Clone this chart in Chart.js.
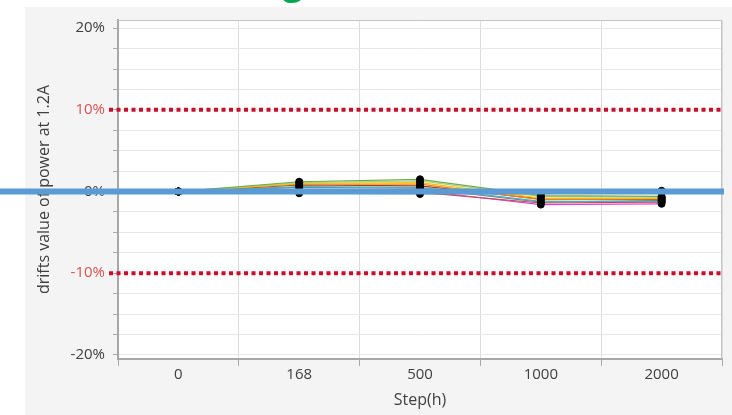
<!DOCTYPE html>
<html>
<head>
<meta charset="utf-8">
<script src="https://cdn.jsdelivr.net/npm/chart.js@4/dist/chart.umd.min.js"></script>
<style>
  html, body { margin: 0; padding: 0; background: #ffffff; }
  #wrap { width: 732px; height: 415px; }
</style>
</head>
<body>
<div id="wrap"><canvas id="c" width="732" height="415"></canvas></div>
<script>
// Test steps (hours)
const steps = ['0', '168', '500', '1000', '2000'];

// Drift of output power at 1.2A per sample, in percent
const sampleA = [0, 1.2, 1.5, -0.5, -0.6];
const sampleB = [0, 1.1, 1.3, -0.6, -0.7];
const sampleC = [0, 1.0, 1.1, -0.8, -0.8];
const sampleD = [0, 0.9, 0.9, -1.0, -0.9];
const sampleE = [0, 0.8, 0.7, -0.9, -1.0];
const sampleF = [0, 0.6, 0.5, -1.2, -1.2];
const sampleG = [0, 0.5, 0.4, -1.3, -1.1];
const sampleH = [0, 0.0, -0.1, -1.4, -1.3];
const sampleI = [0, 0.2, 0.1, -1.6, -1.5];
const sampleJ = [0, -0.2, -0.3, -0.3, 0.1];

const samples = [sampleA, sampleB, sampleC, sampleD, sampleE, sampleF, sampleG, sampleH, sampleI, sampleJ];
const sampleColors = ['#70ad47', '#a9d18e', '#ffc000', '#ed7d31', '#9e480e', '#4bacc6', '#7f7f7f', '#c0504d', '#e040e0', '#b4a7d6'];

// Axis labels and reference levels (percent)
const yLabelValues = [-20, -10, 0, 10, 20];
const limitLines = [10, -10];
const baseline = 0;
const yMinorStep = 2.5;

const decor = {
  id: 'decor',
  beforeDraw(chart) {
    const { ctx, chartArea: a, width, height } = chart;
    ctx.save();
    ctx.fillStyle = '#ffffff';
    ctx.fillRect(0, 0, width, height);
    ctx.fillStyle = '#f4f4f4';
    ctx.fillRect(25, 7, width - 25, height - 7);
    ctx.fillStyle = '#ffffff';
    ctx.fillRect(a.left, a.top, a.right - a.left, a.bottom - a.top);
    // heading text sitting above the panel
    ctx.fillStyle = '#00a651';
    ctx.font = 'bold 36px "Open Sans"';
    ctx.textAlign = 'center';
    ctx.textBaseline = 'alphabetic';
    ctx.fillText('g', 293, -6);
    ctx.restore();
  },
  afterDatasetsDraw(chart) {
    const { ctx, chartArea: a, scales: { y } } = chart;
    ctx.save();
    // frame
    ctx.strokeStyle = '#c4c4c4';
    ctx.lineWidth = 1;
    ctx.beginPath();
    ctx.moveTo(a.left, a.top + 0.5);
    ctx.lineTo(a.right - 0.5, a.top + 0.5);
    ctx.lineTo(a.right - 0.5, a.bottom);
    ctx.stroke();
    // limit lines
    ctx.strokeStyle = '#c8102e';
    ctx.lineWidth = 4;
    ctx.setLineDash([4, 3.5]);
    limitLines.forEach(v => {
      const py = y.getPixelForValue(v);
      ctx.beginPath();
      ctx.moveTo(a.left - 9, py);
      ctx.lineTo(a.right, py);
      ctx.stroke();
    });
    ctx.setLineDash([]);
    // zero line
    const p0 = y.getPixelForValue(baseline);
    ctx.strokeStyle = '#5b9bd5';
    ctx.lineWidth = 6;
    ctx.beginPath();
    ctx.moveTo(0, p0);
    ctx.lineTo(a.right + 2, p0);
    ctx.stroke();
    ctx.restore();
  }
};

new Chart(document.getElementById('c'), {
  type: 'line',
  data: {
    labels: steps,
    datasets: samples.map((s, i) => ({
      data: s,
      borderColor: sampleColors[i],
      borderWidth: 1.2,
      pointRadius: 3.5,
      pointBackgroundColor: '#000000',
      pointBorderColor: '#000000',
      pointBorderWidth: 1,
      tension: 0,
      fill: false
    }))
  },
  options: {
    responsive: false,
    animation: false,
    devicePixelRatio: 1,
    layout: { padding: { top: 20, right: 10, left: 0, bottom: 0 } },
    plugins: {
      legend: { display: false },
      tooltip: { enabled: false },
      title: { display: false }
    },
    scales: {
      x: {
        offset: true,
        grid: { offset: true, color: '#dcdcdc', tickColor: '#a8a8a8', tickLength: 7, lineWidth: 1 },
        border: { color: '#a8a8a8', width: 2 },
        ticks: { color: '#404040', font: { family: 'Open Sans', size: 15 }, padding: 0, maxRotation: 0 },
        title: { display: true, text: 'Step(h)', color: '#404040', font: { family: 'Open Sans', size: 16 }, padding: { top: 0, bottom: 5 } },
        afterFit(scale) { scale.height = 56; }
      },
      y: {
        min: -20.5,
        max: 21,
        afterBuildTicks(scale) {
          const t = [];
          for (let v = yLabelValues[0]; v <= yLabelValues[yLabelValues.length - 1] + 1e-9; v += yMinorStep) t.push({ value: v });
          scale.ticks = t;
        },
        grid: { color: '#e8e8e8', tickColor: '#a8a8a8', tickLength: 5 },
        border: { color: '#a8a8a8', width: 2 },
        ticks: {
          autoSkip: false,
          padding: 8,
          font: { family: 'Open Sans', size: 15 },
          color: ctx => (Math.abs(ctx.tick.value) === 10 ? '#d9534f' : '#404040'),
          callback: v => (yLabelValues.includes(v) ? v + '%' : '')
        },
        title: { display: true, text: 'drifts value of power at 1.2A', color: '#404040', font: { family: 'Open Sans', size: 16 }, padding: { top: 35, bottom: 0 } },
        afterFit(scale) { scale.width = 118; }
      }
    }
  },
  plugins: [decor]
});
</script>
</body>
</html>
